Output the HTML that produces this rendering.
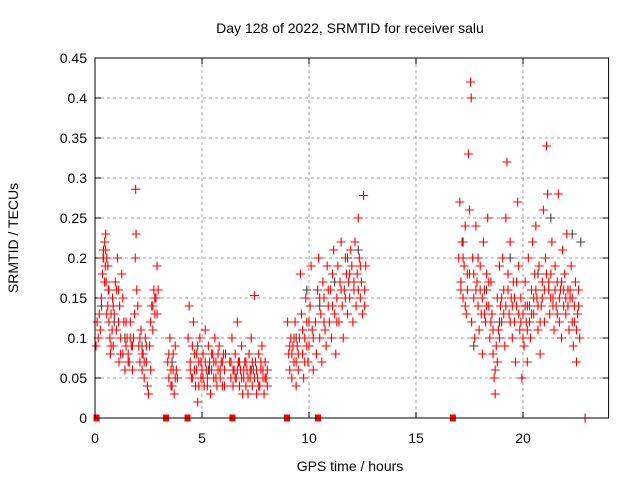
<!DOCTYPE html>
<html><head><meta charset="utf-8"><style>
body{margin:0;background:#fff}
svg{display:block;font-family:"Liberation Sans",sans-serif}
</style></head><body>
<svg id="chart" width="640" height="480" viewBox="0 0 640 480">
<text x="350" y="33" font-size="14" text-anchor="middle">Day 128 of 2022, SRMTID for receiver salu</text>
<text transform="translate(18,238) rotate(-90)" font-size="14" text-anchor="middle">SRMTID / TECUs</text>
<text x="350" y="471" font-size="14" text-anchor="middle">GPS time / hours</text>
<g id="grid"></g>
<g id="ticks"></g>
<g id="gray"></g>
<g id="red"></g>
<rect x="95" y="58" width="513.6" height="360" fill="none" stroke="#000" stroke-width="1"/>
</svg>
<script>
const xTicks=[0,5,10,15,20];
const yTicks=[0,0.05,0.1,0.15,0.2,0.25,0.3,0.35,0.4,0.45];
const yTickLabels=["0","0.05","0.1","0.15","0.2","0.25","0.3","0.35","0.4","0.45"];
const redT=[0.05,0.1,0.15,0.2,0.25,0.3,0.35,0.38,0.4,0.45,0.48,0.5,0.52,0.55,0.6,0.62,0.65,0.7,0.72,0.75,0.8,0.82,0.85,0.9,0.95,1.0,1.05,1.1,1.12,1.15,1.2,1.25,1.3,1.35,1.4,1.45,1.5,1.55,1.6,1.65,1.7,1.75,1.8,1.85,1.88,1.9,1.92,1.95,2.0,2.05,2.1,2.15,2.2,2.25,2.3,2.35,2.4,2.45,2.5,2.55,2.6,2.65,2.7,2.75,2.8,2.85,2.9,2.95,
3.4,3.45,3.5,3.55,3.6,3.65,3.7,3.75,3.8,3.85,
4.35,4.4,4.45,4.5,4.55,4.6,4.65,4.7,4.75,4.8,4.85,4.9,4.95,5.0,5.05,5.1,5.15,5.2,5.25,5.3,5.35,5.4,5.45,5.5,5.55,5.6,5.65,5.7,5.75,5.8,5.85,5.9,5.95,6.0,6.05,
6.3,6.35,6.4,6.45,6.5,6.55,6.6,6.65,6.7,6.75,6.8,6.85,6.9,6.95,7.0,7.05,7.1,7.15,7.2,7.25,7.3,7.35,7.4,7.45,7.5,7.55,7.6,7.65,7.7,7.75,7.8,7.85,7.9,7.95,8.0,8.05,
9.0,9.05,9.1,9.15,9.2,9.25,9.3,9.35,9.4,9.45,9.5,9.55,9.6,9.65,9.7,9.75,9.8,9.85,9.9,9.95,10.0,10.05,10.1,10.15,10.2,10.3,10.35,10.4,10.45,10.5,10.55,10.6,10.65,10.7,10.75,10.8,10.85,10.9,10.95,11.0,11.05,11.1,11.15,11.2,11.25,11.3,11.35,11.4,11.45,11.5,11.55,11.6,11.65,11.7,11.75,11.8,11.85,11.9,11.95,12.0,12.05,12.1,12.15,12.2,12.25,12.3,12.35,12.4,12.45,12.5,12.55,12.6,12.65,
17.0,17.05,17.1,17.15,17.2,17.25,17.3,17.35,17.4,17.45,17.5,17.55,17.58,17.6,17.65,17.7,17.75,17.8,17.85,17.9,17.95,18.0,18.05,18.1,18.15,18.2,18.25,18.3,18.35,18.4,18.45,18.5,18.55,18.6,18.65,18.7,18.75,18.8,18.85,18.9,18.95,19.0,19.05,19.1,19.15,19.2,19.25,19.3,19.35,19.4,19.45,19.5,19.55,19.6,19.65,19.7,19.75,19.8,19.85,19.9,19.95,20.0,20.05,20.1,20.15,20.2,20.25,20.3,20.35,20.4,20.45,20.5,20.55,20.6,20.65,20.7,20.75,20.8,20.85,20.9,20.95,21.0,21.05,21.1,21.15,21.2,21.25,21.3,21.35,21.4,21.45,21.5,21.55,21.6,21.65,21.7,21.75,21.8,21.85,21.9,21.95,22.0,22.05,22.1,22.15,22.2,22.25,22.3,22.35,22.4,22.45,22.5,22.55,22.6,22.65];
const redV=[0.09,0.12,0.1,0.13,0.11,0.15,0.18,0.2,0.21,0.22,0.19,0.23,0.17,0.2,0.14,0.16,0.12,0.1,0.08,0.13,0.11,0.15,0.09,0.13,0.17,0.16,0.2,0.12,0.07,0.14,0.1,0.18,0.08,0.12,0.06,0.09,0.1,0.08,0.07,0.12,0.09,0.06,0.1,0.13,0.2,0.286,0.23,0.16,0.14,0.09,0.07,0.11,0.06,0.08,0.05,0.1,0.07,0.04,0.03,0.09,0.12,0.14,0.11,0.16,0.13,0.15,0.19,0.16,
0.07,0.05,0.1,0.06,0.04,0.08,0.03,0.09,0.06,0.05,
0.1,0.14,0.07,0.05,0.09,0.12,0.06,0.04,0.08,0.02,0.07,0.1,0.05,0.06,0.08,0.04,0.11,0.06,0.05,0.09,0.07,0.03,0.06,0.08,0.05,0.1,0.07,0.04,0.06,0.09,0.05,0.07,0.04,0.08,0.06,
0.07,0.05,0.1,0.04,0.06,0.08,0.05,0.12,0.07,0.04,0.06,0.09,0.03,0.05,0.07,0.04,0.06,0.03,0.08,0.05,0.1,0.04,0.06,0.153,0.07,0.03,0.05,0.08,0.04,0.06,0.09,0.05,0.03,0.07,0.05,0.06,
0.12,0.08,0.06,0.1,0.05,0.09,0.07,0.12,0.04,0.09,0.06,0.1,0.18,0.13,0.08,0.05,0.1,0.15,0.12,0.07,0.09,0.14,0.19,0.11,0.06,0.12,0.08,0.16,0.2,0.1,0.13,0.07,0.17,0.15,0.11,0.09,0.19,0.14,0.12,0.16,0.1,0.18,0.21,0.13,0.08,0.15,0.19,0.12,0.17,0.22,0.14,0.1,0.16,0.2,0.18,0.13,0.17,0.15,0.21,0.19,0.12,0.16,0.22,0.14,0.18,0.25,0.2,0.15,0.17,0.13,0.278,0.16,0.19,
0.2,0.27,0.17,0.22,0.15,0.19,0.24,0.13,0.18,0.33,0.26,0.42,0.4,0.12,0.2,0.15,0.1,0.24,0.17,0.14,0.11,0.19,0.13,0.08,0.22,0.16,0.12,0.18,0.25,0.14,0.1,0.17,0.13,0.08,0.05,0.03,0.09,0.15,0.11,0.19,0.14,0.12,0.2,0.16,0.09,0.25,0.32,0.18,0.13,0.22,0.15,0.1,0.17,0.12,0.07,0.14,0.27,0.19,0.11,0.15,0.05,0.13,0.09,0.17,0.12,0.07,0.2,0.14,0.1,0.16,0.22,0.13,0.18,0.24,0.15,0.11,0.19,0.08,0.14,0.17,0.26,0.12,0.2,0.34,0.28,0.16,0.13,0.18,0.22,0.15,0.11,0.19,0.14,0.17,0.28,0.12,0.16,0.1,0.21,0.14,0.18,0.13,0.23,0.16,0.11,0.15,0.19,0.12,0.09,0.14,0.17,0.07,0.13,0.16,0.1];
const redT2=[0.4,0.45,0.5,0.55,0.6,0.65,0.75,0.85,1.0,1.1,1.2,1.3,1.45,1.55,1.65,1.75,2.1,2.2,2.3,2.4,2.6,2.7,2.8,2.9,
3.45,3.55,3.65,3.75,
4.45,4.55,4.65,4.75,4.85,4.95,5.05,5.15,5.25,5.35,5.45,5.55,5.65,5.75,5.85,5.95,6.05,
6.35,6.45,6.55,6.65,6.75,6.85,6.95,7.05,7.15,7.25,7.35,7.45,7.55,7.65,7.75,7.85,7.95,8.05,
9.1,9.2,9.3,9.4,9.5,9.7,9.8,9.9,10.0,10.2,10.5,10.7,10.9,11.1,11.3,11.5,11.7,11.9,12.1,12.3,12.4,12.6,
17.1,17.2,17.3,17.4,17.5,17.7,17.8,17.9,18.0,18.1,18.2,18.3,18.4,18.5,18.6,18.7,18.8,18.9,19.0,19.1,19.2,19.3,19.4,19.5,19.6,19.7,19.8,19.9,20.0,20.1,20.2,20.3,20.4,20.5,20.6,20.7,20.8,20.9,21.0,21.1,21.2,21.3,21.4,21.5,21.6,21.7,21.8,21.9,22.0,22.1,22.2,22.3,22.4,22.5,22.6];
const redV2=[0.2,0.17,0.21,0.13,0.19,0.16,0.09,0.14,0.11,0.16,0.08,0.15,0.12,0.07,0.1,0.09,0.1,0.08,0.07,0.09,0.06,0.14,0.15,0.13,
0.08,0.04,0.06,0.05,
0.06,0.05,0.08,0.06,0.04,0.07,0.05,0.07,0.04,0.06,0.08,0.07,0.05,0.08,0.06,0.07,0.04,
0.07,0.06,0.05,0.06,0.07,0.05,0.06,0.07,0.05,0.06,0.07,0.05,0.06,0.04,0.07,0.06,0.05,0.04,
0.09,0.08,0.1,0.07,0.08,0.11,0.07,0.09,0.12,0.1,0.15,0.12,0.16,0.14,0.12,0.16,0.15,0.18,0.17,0.16,0.19,0.14,
0.16,0.2,0.14,0.16,0.18,0.18,0.16,0.2,0.16,0.15,0.13,0.14,0.17,0.12,0.11,0.06,0.07,0.1,0.15,0.13,0.14,0.16,0.12,0.14,0.15,0.17,0.13,0.12,0.1,0.14,0.11,0.12,0.13,0.15,0.16,0.14,0.12,0.15,0.16,0.18,0.17,0.15,0.14,0.16,0.13,0.15,0.17,0.16,0.15,0.14,0.16,0.15,0.12,0.11,0.14];
const zeroT=[0.05,3.3,4.3,6.4,8.95,10.4,16.7];
const zeroV=[0,0,0,0,0,0,0];
const tailT=[22.9];
const tailV=[0];
const grayT=[0.3,0.9,1.4,2.2,2.8,3.6,4.8,5.3,6.1,6.7,7.3,9.4,9.9,10.5,11.2,11.8,12.3,17.2,17.7,18.3,18.9,19.4,20.2,20.7,21.3,21.8,22.3,22.7];
const grayV=[0.14,0.12,0.1,0.09,0.15,0.07,0.09,0.06,0.08,0.07,0.06,0.1,0.16,0.14,0.17,0.2,0.21,0.22,0.09,0.16,0.12,0.2,0.14,0.18,0.25,0.17,0.23,0.22];

const X=t=>95+t*21.4, Y=v=>418-v*800;
const NS="http://www.w3.org/2000/svg";
function mk(tag,attrs,parent){const e=document.createElementNS(NS,tag);for(const k in attrs)e.setAttribute(k,attrs[k]);parent.appendChild(e);return e;}
const grid=document.getElementById('grid'),ticks=document.getElementById('ticks');
yTicks.forEach((v,i)=>{
  if(v>0&&v<0.45){const g=mk('line',{x1:95,x2:608.6,y1:Y(v),y2:Y(v),stroke:'#a0a0a0','stroke-dasharray':'3,3'},grid);
  
  }
  const l=mk('line',{x1:95,x2:101,y1:Y(v),y2:Y(v),stroke:'#000'},ticks);
  
  
  const r=mk('line',{x1:602.6,x2:608.6,y1:Y(v),y2:Y(v),stroke:'#000'},ticks);
  
  
  const tx=mk('text',{x:87,y:Y(v)+5,'font-size':14,'text-anchor':'end'},ticks);tx.textContent=yTickLabels[i];
  
  
});
xTicks.forEach(t=>{
  if(t>0){const g=mk('line',{x1:X(t),x2:X(t),y1:58,y2:418,stroke:'#a0a0a0','stroke-dasharray':'3,3'},grid);
  
  }
  const l=mk('line',{x1:X(t),x2:X(t),y1:412,y2:418,stroke:'#000'},ticks);
  
  
  const u=mk('line',{x1:X(t),x2:X(t),y1:58,y2:64,stroke:'#000'},ticks);
  
  
  const tx=mk('text',{x:X(t),y:443,'font-size':14,'text-anchor':'middle'},ticks);tx.textContent=String(t);
  
  
});
function plus(t,v,col,parent){
  const x=X(t),y=Y(v);
  const p=mk('path',{d:`M${x-4.5},${y}H${x+4.5}M${x},${y-4.5}V${y+4.5}`,stroke:col,'stroke-width':1.1,fill:'none'},parent);
  
  
}
const gG=document.getElementById('gray'),gR=document.getElementById('red');
grayT.forEach((t,i)=>plus(t,grayV[i],'#404040',gG));
redT.forEach((t,i)=>plus(t,redV[i],'#ff0000',gR));
redT2.forEach((t,i)=>plus(t,redV2[i],'#ff0000',gR));
tailT.forEach((t,i)=>plus(t,tailV[i],'#ff0000',gR));
zeroT.forEach((t,i)=>{
  const s=mk('rect',{x:X(t)-2.5,y:Y(zeroV[i])-3.5,width:6,height:7,fill:'#ff0000'},gR);
  
  
});
</script>
</body></html>
